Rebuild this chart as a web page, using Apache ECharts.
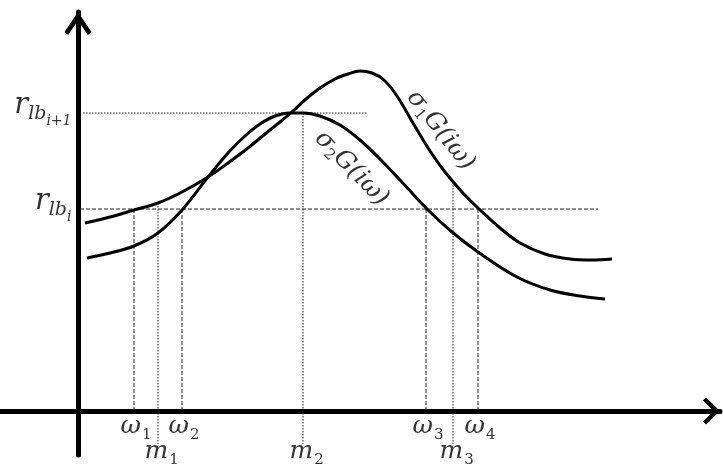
<!DOCTYPE html>
<html><head><meta charset="utf-8">
<script src="https://cdn.jsdelivr.net/npm/echarts@6/dist/echarts.min.js"></script>
<style>html,body{margin:0;padding:0;background:#fff}#c{width:723px;height:464px}</style>
</head><body><div id="c"></div>
<script>
// ---- data (schematic units) ----
const sigma1X = [0.07,0.32,0.56,0.80,1.04,1.30,1.50,1.70,1.87,2.02,2.15,2.28,2.42,2.57,2.70,2.82,2.94,3.06,3.19,3.35,3.52,3.67,3.84,4.00,4.22,4.42,4.67,4.92,5.14,5.34];
const sigma1Y = [1.88,1.94,2.01,2.08,2.19,2.34,2.48,2.63,2.77,2.89,3.00,3.12,3.23,3.32,3.37,3.40,3.38,3.31,3.15,2.88,2.60,2.39,2.19,2.03,1.83,1.68,1.57,1.52,1.51,1.52];
const sigma2X = [0.09,0.32,0.56,0.80,1.04,1.30,1.50,1.67,1.82,1.97,2.12,2.25,2.42,2.62,2.82,3.02,3.22,3.49,3.74,4.00,4.39,4.72,5.02,5.27];
const sigma2Y = [1.53,1.58,1.65,1.78,2.01,2.34,2.58,2.75,2.87,2.95,2.98,2.98,2.95,2.86,2.71,2.52,2.31,2.02,1.79,1.59,1.34,1.21,1.15,1.12];
const omegaValues = [0.56, 1.04, 3.48, 4.00];
const omegaNames = ['1', '2', '3', '4'];
const mValues = [0.80, 2.25, 3.75];
const mCurveLevels = [2.08, 2.98, 2.29];
const mNames = ['1', '2', '3'];
const rLevels = [2.02, 2.98];
const rNames = ['i', 'i+1'];
const rLineEnds = [5.20, 2.89];
const curveNames = ['1', '2'];

// ---- layout constants ----
const FONT = 'DejaVu Serif';
const xMin = -0.78, xMax = 6.42, yMin = -0.44, yMax = 3.99;
const mBottom = -0.33;

const zip = (xs, ys) => xs.map((x, i) => [x, ys[i]]);
const series = [];

series.push({type:'line', data: zip(sigma1X, sigma1Y), smooth: 0.35, symbol:'none',
  lineStyle:{color:'#000', width:3}, z:5, silent:true});
series.push({type:'line', data: zip(sigma2X, sigma2Y), smooth: 0.35, symbol:'none',
  lineStyle:{color:'#000', width:3}, z:5, silent:true});

// r_lb_i dashed, r_lb_{i+1} dotted
series.push({type:'line', data: [[0.02, rLevels[0]], [rLineEnds[0], rLevels[0]]], symbol:'none',
  lineStyle:{color:'#222', width:1, type:[4,2]}, silent:true, z:3});
series.push({type:'line', data: [[0.05, rLevels[1]], [rLineEnds[1], rLevels[1]]], symbol:'none',
  lineStyle:{color:'#222', width:1, type:[1.5,1.5], shadowColor:'rgba(0,0,0,0.12)', shadowBlur:4, shadowOffsetY:3}, silent:true, z:3});

omegaValues.forEach(w => {
  series.push({type:'line', data: [[w, rLevels[0]], [w, 0]], symbol:'none',
    lineStyle:{color:'#222', width:1, type:[4,2]}, silent:true, z:3});
});
mValues.forEach((m, i) => {
  series.push({type:'line', data: [[m, mCurveLevels[i]], [m, mBottom]], symbol:'none',
    lineStyle:{color:'#222', width:1, type:[1.5,1.5]}, silent:true, z:3});
});

const mainRich = {
  v:{fontFamily:FONT, fontStyle:'italic', fontSize:25, lineHeight:25, verticalAlign:'top', color:'#000'},
  s:{fontFamily:FONT, fontSize:15, lineHeight:15, verticalAlign:'top', padding:[14,0,0,1], color:'#000'}
};
const hidden = {color:'rgba(0,0,0,0)'};

series.push({type:'scatter', symbolSize:1, itemStyle:hidden, silent:true, z:10,
  data: omegaValues.map(w => [w, 0]),
  label:{show:true, position:[-13, 3], align:'left', verticalAlign:'top',
    formatter: p => '{v|ω}{s|' + omegaNames[p.dataIndex] + '}', rich: mainRich}});
series.push({type:'scatter', symbolSize:1, itemStyle:hidden, silent:true, z:10,
  data: mValues.map(m => [m, 0]),
  label:{show:true, position:[-13, 28], align:'left', verticalAlign:'top',
    formatter: p => '{v|m}{s|' + mNames[p.dataIndex] + '}', rich: mainRich}});

series.push({type:'scatter', symbolSize:1, itemStyle:hidden, silent:true, z:10,
  data: rLevels.map(r => [0, r]),
  label:{show:true, position:[-6, -22], align:'right', verticalAlign:'top',
    formatter: p => '{r|r}{lb|lb}{i|' + rNames[p.dataIndex] + '}',
    rich:{
      r:{fontFamily:FONT, fontStyle:'italic', fontSize:29, lineHeight:29, verticalAlign:'top', color:'#000'},
      lb:{fontFamily:FONT, fontStyle:'italic', fontSize:19, lineHeight:19, verticalAlign:'top', padding:[14,0,0,0], color:'#000'},
      i:{fontFamily:FONT, fontStyle:'italic', fontSize:14, lineHeight:14, verticalAlign:'top', padding:[24,0,0,0], color:'#000'}
    }}});

const curveLabelPos = [[3.63, 2.80], [2.74, 2.42]];
const curveLabelRot = [-52, -46];
curveNames.forEach((n, i) => {
  series.push({type:'scatter', symbolSize:1, itemStyle:hidden, silent:true, z:10,
    data: [curveLabelPos[i]],
    label:{show:true, position:[0,0], align:'center', verticalAlign:'middle', rotate: curveLabelRot[i],
      formatter: '{v|σ}{s|' + n + '}{v|G(iω)}',
      rich:{
        v:{fontFamily:FONT, fontStyle:'italic', fontSize:25, lineHeight:25, verticalAlign:'top', color:'#000'},
        s:{fontFamily:FONT, fontSize:15, lineHeight:15, verticalAlign:'top', padding:[12,0,0,0], color:'#000'}
      }}});
});

const chart = echarts.init(document.getElementById('c'), null, {renderer:'canvas'});
chart.setOption({
  animation:false,
  backgroundColor:'#fff',
  grid:{left:0, top:12, width:720, height:443, containLabel:false},
  xAxis:{type:'value', min:xMin, max:xMax,
    axisLine:{show:true, onZero:true, lineStyle:{color:'#000', width:5},
      symbol:['none', 'path://M13.5 0 L27 14 L24 17 L13.5 6.5 L3 17 L0 14 Z'],
      symbolSize:[27,17], symbolOffset:[0,-8.5]},
    axisTick:{show:false}, axisLabel:{show:false}, splitLine:{show:false}},
  yAxis:{type:'value', min:yMin, max:yMax,
    axisLine:{show:true, onZero:true, lineStyle:{color:'#000', width:5},
      symbol:['none', 'path://M13.5 0 L27 20 L23.3 23 L13.5 8.5 L3.7 23 L0 20 Z'],
      symbolSize:[27,23], symbolOffset:[0,-11.5]},
    axisTick:{show:false}, axisLabel:{show:false}, splitLine:{show:false}},
  series: series
});
</script></body></html>
